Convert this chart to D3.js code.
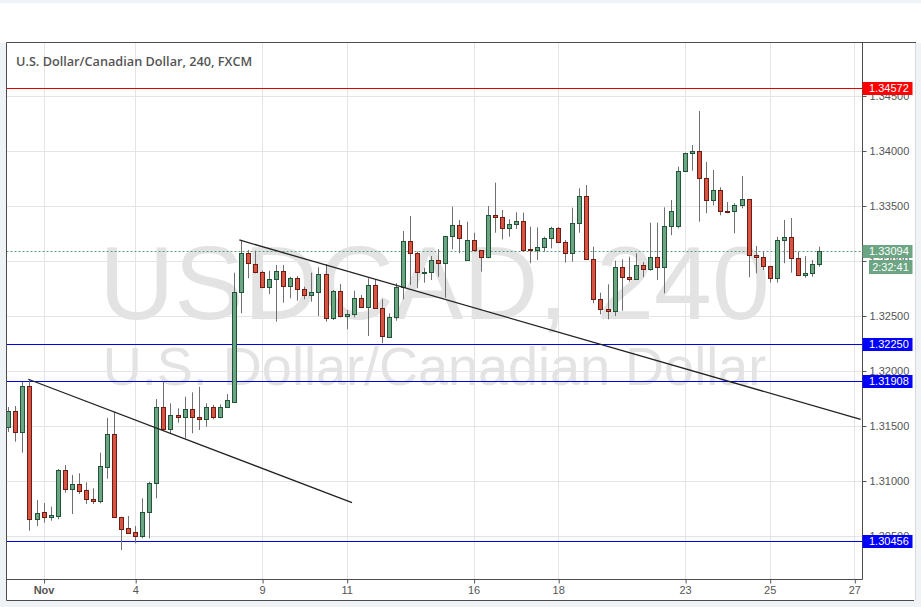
<!DOCTYPE html>
<html><head><meta charset="utf-8">
<script src="https://cdn.jsdelivr.net/npm/d3@7"></script>
<style>body{margin:0;background:#f0f3f6;}svg{display:block}</style>
</head><body><svg id="c" width="921" height="607"></svg>
<script>
// ---------- DATA ----------
const title = "U.S. Dollar/Canadian Dollar, 240, FXCM";
const wmMain = "USDCAD, 240";
const wmSub = "U.S. Dollar/Canadian Dollar";
const opens = [1.31488,1.31639,1.31443,1.31864,1.30652,1.30715,1.30675,1.30685,1.31100,1.30925,
1.30970,1.30918,1.30836,1.30821,1.31130,1.31427,1.30675,1.30570,1.30534,1.30503,
1.30715,1.30979,1.31670,1.31470,1.31600,1.31585,1.31652,1.31579,1.31561,1.31670,
1.31579,1.31670,1.31721,1.32715,1.33070,1.32973,1.32897,1.32761,1.32834,1.32912,
1.32775,1.32843,1.32743,1.32688,1.32715,1.32882,1.32479,1.32727,1.32503,1.32515,
1.32661,1.32579,1.32782,1.32570,1.32312,1.32488,1.32766,1.33182,1.33070,1.32894,
1.32897,1.33009,1.32979,1.33227,1.33327,1.33009,1.33191,1.33100,1.33039,1.33418,
1.33397,1.33297,1.33334,1.33364,1.33106,1.33100,1.33125,1.33206,1.33297,1.33170,
1.33070,1.33343,1.33591,1.33015,1.32652,1.32561,1.32543,1.32943,1.32852,1.32834,
1.32961,1.32925,1.33034,1.32943,1.33318,1.33318,1.33815,1.33979,1.33997,1.33752,
1.33555,1.33645,1.33455,1.33452,1.33506,1.33561,1.33052,1.33034,1.32955,1.32843,
1.33188,1.33215,1.33025,1.32870,1.32888,1.32970];
const highs = [1.31673,1.31682,1.31903,1.31927,1.30827,1.30800,1.30766,1.31109,1.31145,1.31055,
1.31070,1.30988,1.30934,1.31257,1.31575,1.31630,1.30675,1.30682,1.30591,1.30843,
1.30994,1.31745,1.31903,1.31706,1.31661,1.31766,1.31806,1.31857,1.31706,1.31691,
1.31697,1.31791,1.32894,1.33191,1.33100,1.33094,1.32912,1.32912,1.32964,1.32964,
1.32857,1.32864,1.32766,1.32894,1.32943,1.32973,1.32736,1.32791,1.32555,1.32730,
1.32691,1.32843,1.32834,1.32652,1.32525,1.32797,1.33273,1.33409,1.33085,1.32939,
1.33045,1.33109,1.33227,1.33494,1.33373,1.33357,1.33257,1.33100,1.33500,1.33712,
1.33464,1.33379,1.33443,1.33440,1.33312,1.33306,1.33221,1.33312,1.33309,1.33191,
1.33485,1.33661,1.33691,1.33130,1.32712,1.32788,1.33003,1.33015,1.33039,1.33070,
1.32991,1.33348,1.33348,1.33488,1.33555,1.33857,1.33985,1.34055,1.34364,1.33900,
1.33827,1.33670,1.33536,1.33525,1.33773,1.33561,1.33136,1.33085,1.32955,1.33221,
1.33373,1.33391,1.33085,1.33045,1.33009,1.33130];
const lows = [1.31445,1.31357,1.31257,1.30548,1.30591,1.30621,1.30639,1.30652,1.30894,1.30700,
1.30882,1.30791,1.30791,1.30797,1.31021,1.30665,1.30373,1.30518,1.30434,1.30479,
1.30479,1.30843,1.31465,1.31434,1.31530,1.31388,1.31434,1.31464,1.31494,1.31561,
1.31570,1.31665,1.31709,1.32525,1.32843,1.32888,1.32752,1.32700,1.32448,1.32621,
1.32661,1.32639,1.32652,1.32630,1.32500,1.32448,1.32464,1.32488,1.32379,1.32488,
1.32575,1.32318,1.32566,1.32252,1.32305,1.32457,1.32652,1.32782,1.32752,1.32803,
1.32827,1.32857,1.32666,1.33106,1.33070,1.33003,1.33085,1.32903,1.33025,1.33257,
1.33197,1.33221,1.33291,1.33085,1.32979,1.33009,1.33085,1.33115,1.33164,1.32985,
1.32994,1.33257,1.33010,1.32615,1.32515,1.32470,1.32500,1.32548,1.32812,1.32827,
1.32852,1.32912,1.32827,1.32706,1.33234,1.33297,1.33810,1.33821,1.33357,1.33434,
1.33506,1.33415,1.33434,1.33252,1.33479,1.32852,1.32888,1.32918,1.32803,1.32803,
1.32979,1.32894,1.32870,1.32848,1.32857,1.32948];
const closes = [1.31639,1.31443,1.31864,1.30652,1.30706,1.30675,1.30691,1.31100,1.30925,1.30970,
1.30912,1.30834,1.30821,1.31136,1.31427,1.30670,1.30566,1.30530,1.30503,1.30715,
1.30979,1.31670,1.31470,1.31597,1.31585,1.31652,1.31579,1.31561,1.31670,1.31579,
1.31670,1.31736,1.32715,1.33070,1.32985,1.32897,1.32761,1.32834,1.32912,1.32775,
1.32843,1.32743,1.32688,1.32715,1.32882,1.32479,1.32727,1.32503,1.32515,1.32661,
1.32579,1.32782,1.32570,1.32318,1.32488,1.32766,1.33179,1.33070,1.32897,1.32900,
1.33009,1.32979,1.33227,1.33327,1.33206,1.33191,1.33100,1.33039,1.33418,1.33397,
1.33297,1.33336,1.33364,1.33100,1.33097,1.33125,1.33206,1.33297,1.33170,1.33070,
1.33343,1.33591,1.33015,1.32652,1.32561,1.32543,1.32943,1.32852,1.32834,1.32961,
1.32925,1.33034,1.32943,1.33318,1.33452,1.33815,1.33979,1.33997,1.33752,1.33555,
1.33645,1.33452,1.33448,1.33506,1.33561,1.33052,1.33034,1.32955,1.32843,1.33188,
1.33215,1.33025,1.32870,1.32888,1.32970,1.33094];
const dayTickIdx = [5,18,36,48,66,78,96,108,120];
const dayTickLabels = ["Nov","4","9","11","16","18","23","25","27"];
const priceTicks = [1.305,1.310,1.315,1.320,1.325,1.330,1.335,1.340,1.345];
const levelPrices = [1.34572,1.32250,1.31908,1.30456];
const trendStartIdx = [2.84,32.77];
const trendStartPrice = [1.31925,1.33191];
const trendEndIdx = [48.75,120.9];
const trendEndPrice = [1.30803,1.31560];
const lastPrice = 1.33094;
const countdown = "2:32:41";

// ---------- CHART ----------
const svg = d3.select("#c");
const L = 6.5, R = 862.5, T = 42.5, B = 579.5;
const x = d3.scaleLinear().domain([0,120]).range([8.3,854.3]);
const y = d3.scaleLinear().domain([1.30,1.35]).range([591,41]);
const levelColor = ["#e00000","#0000e6","#0000e6","#0000e6"];
const upFill="#6ba583", upStroke="#225437", dnFill="#d75442", dnStroke="#6f1d13";
const font = "'Liberation Sans', Arial, sans-serif";

// panels
svg.append("rect").attr("x",0).attr("y",3).attr("width",921).attr("height",40).attr("fill","#fff");
svg.append("rect").attr("x",6).attr("y",42).attr("width",910).attr("height",558).attr("fill","#fff");
svg.append("line").attr("x1",915.5).attr("x2",915.5).attr("y1",42).attr("y2",600).attr("stroke","#d6d9dd");

svg.append("clipPath").attr("id","pc").append("rect").attr("x",L).attr("y",T).attr("width",R-L).attr("height",B-T);
const plot = svg.append("g").attr("clip-path","url(#pc)");

// watermark
plot.append("text").attr("x",(L+R)/2).attr("y",319).attr("text-anchor","middle")
  .attr("font-family",font).attr("font-size",104).attr("fill","#e3e3e3").text(wmMain);
plot.append("text").attr("x",(L+R)/2).attr("y",385).attr("text-anchor","middle")
  .attr("font-family",font).attr("font-size",54).attr("fill","#e3e3e3").text(wmSub);

// grid
plot.selectAll(".hg").data(priceTicks).join("line").attr("x1",L).attr("x2",R)
  .attr("y1",d=>Math.round(y(d))+0.5).attr("y2",d=>Math.round(y(d))+0.5).attr("stroke","#e4e4e4");
plot.selectAll(".vg").data(dayTickIdx).join("line").attr("y1",T).attr("y2",B)
  .attr("x1",d=>Math.round(x(d))+0.5).attr("x2",d=>Math.round(x(d))+0.5).attr("stroke","#e4e4e4");

// level lines
plot.selectAll(".lv").data(levelPrices).join("line").attr("x1",L).attr("x2",R)
  .attr("y1",d=>Math.round(y(d))+0.5).attr("y2",d=>Math.round(y(d))+0.5)
  .attr("stroke",(d,i)=>levelColor[i]).attr("stroke-width",1.2);

// current price dotted line
plot.append("line").attr("x1",L).attr("x2",R).attr("y1",Math.round(y(lastPrice))+0.5).attr("y2",Math.round(y(lastPrice))+0.5)
  .attr("stroke","#5e9e7a").attr("stroke-dasharray","2,2");

// candles
const idx = d3.range(opens.length);
const cg = plot.append("g");
idx.forEach(i=>{
  const px = Math.round(x(i));
  const up = closes[i] >= opens[i];
  cg.append("line").attr("x1",px+0.5).attr("x2",px+0.5)
    .attr("y1",y(highs[i])).attr("y2",y(lows[i])).attr("stroke","#707070");
  const t = Math.round(y(Math.max(opens[i],closes[i])));
  const b = Math.round(y(Math.min(opens[i],closes[i])));
  cg.append("rect").attr("x",px-1.5).attr("width",4)
    .attr("y",t+0.5).attr("height",Math.max(b-t,1))
    .attr("fill",up?upFill:dnFill).attr("stroke",up?upStroke:dnStroke);
});

// trend lines
plot.selectAll(".tl").data(trendStartIdx).join("line")
  .attr("x1",(d,i)=>x(trendStartIdx[i])).attr("y1",(d,i)=>y(trendStartPrice[i]))
  .attr("x2",(d,i)=>x(trendEndIdx[i])).attr("y2",(d,i)=>y(trendEndPrice[i]))
  .attr("stroke","#222").attr("stroke-width",1.3);

// axes
const ya = svg.append("g").attr("transform",`translate(${R},0)`)
  .call(d3.axisRight(y).tickValues(priceTicks).tickSize(4).tickFormat(d3.format(".5f")));
ya.select(".domain").remove();
ya.selectAll("line").attr("stroke","#555");
ya.selectAll("text").attr("font-family",font).attr("font-size",11).attr("fill","#555");

const xa = svg.append("g").attr("transform",`translate(0,${B})`)
  .call(d3.axisBottom(x).tickValues(dayTickIdx).tickSize(4).tickFormat((d,i)=>dayTickLabels[i]));
xa.select(".domain").remove();
xa.selectAll("line").attr("stroke","#555").attr("transform","translate(0.5,0)");
xa.selectAll("text").attr("font-family",font).attr("font-size",11).attr("fill","#555")
  .attr("font-weight",(d,i)=>i===0?"bold":"normal");

// frame
const fc = "#4d4d4d";
svg.append("line").attr("x1",L).attr("x2",916).attr("y1",T).attr("y2",T).attr("stroke",fc);
svg.append("line").attr("x1",L).attr("x2",L).attr("y1",T).attr("y2",600.5).attr("stroke",fc);
svg.append("line").attr("x1",R).attr("x2",R).attr("y1",T).attr("y2",B).attr("stroke",fc);
svg.append("line").attr("x1",L).attr("x2",R).attr("y1",B).attr("y2",B).attr("stroke",fc);
svg.append("line").attr("x1",L).attr("x2",914).attr("y1",600.5).attr("y2",600.5).attr("stroke",fc);

// title
svg.append("text").attr("x",16).attr("y",66).attr("font-family","'Open Sans', sans-serif")
  .attr("font-weight",600).attr("font-size",12.7).attr("fill","#555").text(title);

// level labels
const lab = svg.append("g");
function priceLabel(p, color, txt, x0){
  const yy = Math.round(y(p));
  lab.append("rect").attr("x",x0).attr("y",yy-6).attr("width",912.5-x0).attr("height",13).attr("fill",color);
  lab.append("text").attr("x",869).attr("y",yy+4).attr("font-family",font).attr("font-size",11)
    .attr("fill","#fff").text(txt);
}
levelPrices.forEach((p,i)=>priceLabel(p, i===0?"#ff0000":"#0000ff", d3.format(".5f")(p), R));
priceLabel(lastPrice, "#6ba583", d3.format(".5f")(lastPrice), R);
// countdown
const cy = Math.round(y(lastPrice));
lab.append("rect").attr("x",869).attr("y",cy+9).attr("width",43.5).attr("height",14).attr("fill","#6ba583");
lab.append("text").attr("x",890.5).attr("y",cy+20).attr("text-anchor","middle").attr("font-family",font)
  .attr("font-size",11).attr("fill","#fff").text(countdown);
</script></body></html>
